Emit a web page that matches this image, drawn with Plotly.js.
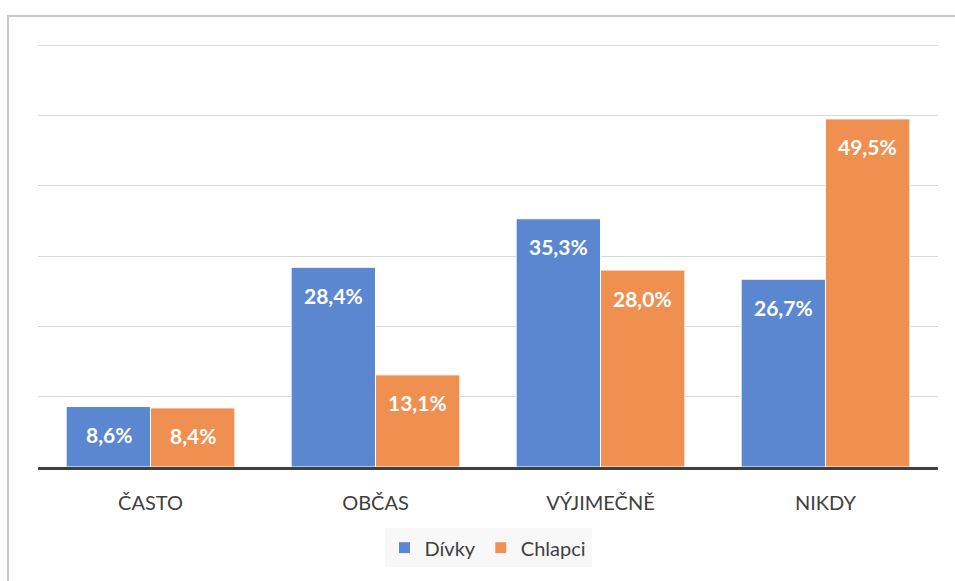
<!DOCTYPE html>
<html><head><meta charset="utf-8">
<script src="https://cdn.plot.ly/plotly-3.0.1.min.js"></script>
<style>html,body{margin:0;padding:0;background:#fff}#chart{width:955px;height:581px}</style>
</head><body><div id="chart"></div>
<script>
const categories = ["ČASTO", "OBČAS", "VÝJIMEČNĚ", "NIKDY"];
const divky = [8.6, 28.4, 35.3, 26.7];
const chlapci = [8.4, 13.1, 28.0, 49.5];
const seriesNames = ["Dívky", "Chlapci"];
const colors = ["#5b87d0", "#ef8f50"];
const FONT = "Lato, 'Open Sans', sans-serif";

const fmt = v => v.toFixed(1).replace(".", ",") + "%";
const traces = [divky, chlapci].map((vals, i) => ({
  type: "bar", name: seriesNames[i], x: categories, y: vals,
  marker: {color: colors[i], line: {color: "#ffffff", width: 1}},
  hoverinfo: "none"
}));
const annotations = [];
[divky, chlapci].forEach((vals, i) => {
  vals.forEach((v, j) => {
    annotations.push({
      x: categories[j], y: v, xref: "x", yref: "y",
      text: "<b>" + fmt(v) + "</b>", showarrow: false,
      xshift: i === 0 ? -42 : 42, yshift: -28,
      font: {family: FONT, size: 21, color: "#ffffff"}
    });
  });
});
const layout = {
  width: 955, height: 581,
  margin: {l: 38, r: 17, t: 38, b: 114},
  paper_bgcolor: "#ffffff", plot_bgcolor: "#ffffff",
  barmode: "group", bargap: 0.25, bargroupgap: 0,
  font: {family: FONT, size: 20, color: "#404040"},
  xaxis: {type: "category", showgrid: false, ticks: "", showline: true, linecolor: "#404040", linewidth: 3,
          tickfont: {family: FONT, size: 20, color: "#404040"}, ticklabelstandoff: 16},
  yaxis: {range: [0, 61], dtick: 10, showticklabels: false, gridcolor: "#d9d9d9", gridwidth: 1,
          zeroline: false, showline: false, fixedrange: true},
  showlegend: true,
  legend: {orientation: "h", x: 0.5, xanchor: "center", y: -0.145 * 422 / 429, yanchor: "top",
           bgcolor: "#f8f8f8", font: {family: FONT, size: 20, color: "#404040"},
           itemwidth: 30, traceorder: "normal"},
  annotations: annotations,
  shapes: [{type: "rect", xref: "paper", yref: "paper",
            x0: (8 - 38) / 900, x1: (960 - 38) / 900,
            y0: (467 - 590) / 429, y1: (467 - 16) / 429,
            line: {color: "#c8c8c8", width: 2}, fillcolor: "rgba(0,0,0,0)", layer: "below"}]
};
Plotly.newPlot("chart", traces, layout, {staticPlot: true});
</script></body></html>
